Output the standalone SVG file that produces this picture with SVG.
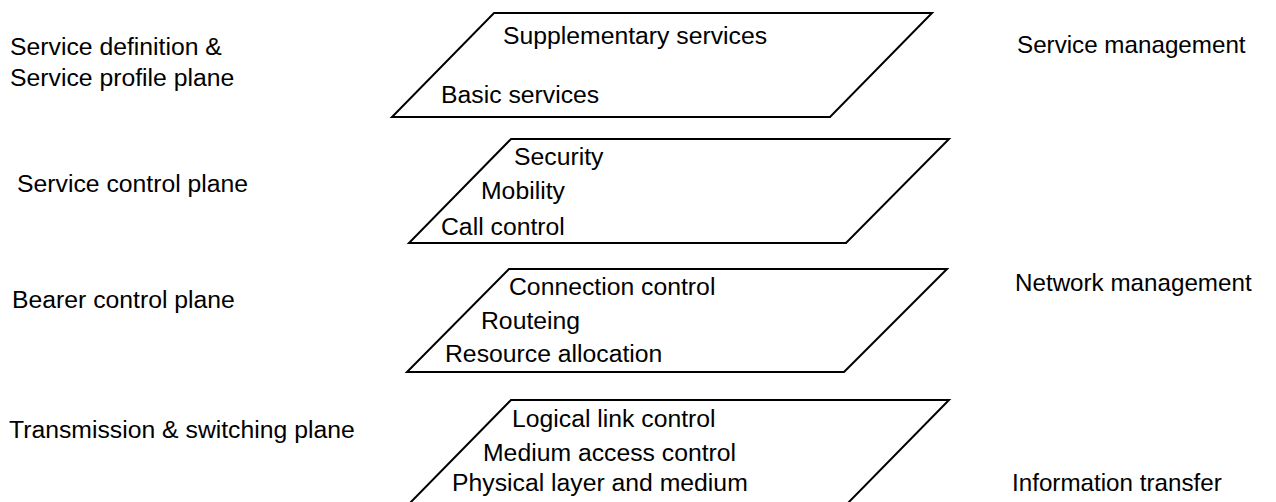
<svg xmlns="http://www.w3.org/2000/svg" width="1276" height="502" viewBox="0 0 1276 502">
  <style>
    .plane { fill: #ffffff; stroke: #000000; stroke-width: 2; stroke-linejoin: miter; }
    text { font-family: "Liberation Sans", Arial, sans-serif; font-size: 24.75px; fill: #000000; }
    .side { font-size: 24.2px; }
  </style>
  <rect x="0" y="0" width="1276" height="502" fill="#ffffff"/>

  <!-- Plane labels, left column -->
  <g id="label-service-definition">
    <text x="10" y="55">Service definition &amp;</text>
    <text x="10" y="86">Service profile plane</text>
  </g>
  <g id="label-service-control"><text x="17" y="192">Service control plane</text></g>
  <g id="label-bearer-control"><text x="12" y="308">Bearer control plane</text></g>
  <g id="label-transmission"><text x="9" y="438">Transmission &amp; switching plane</text></g>

  <!-- Management labels, right column -->
  <g id="label-service-management"><text class="side" x="1017" y="53">Service management</text></g>
  <g id="label-network-management"><text class="side" x="1015" y="291">Network management</text></g>
  <g id="label-information-transfer"><text class="side" x="1012" y="491">Information transfer</text></g>

  <!-- Stacked planes -->
  <g id="plane-service-definition">
    <polygon class="plane" points="494,13 932,13 830,117 392,117"/>
    <text x="503" y="44">Supplementary services</text>
    <text x="441" y="103">Basic services</text>
  </g>
  <g id="plane-service-control">
    <polygon class="plane" points="511,139 949,139 846,243 409,243"/>
    <text x="514" y="165">Security</text>
    <text x="481" y="199">Mobility</text>
    <text x="441" y="235">Call control</text>
  </g>
  <g id="plane-bearer-control">
    <polygon class="plane" points="509,269 947,269 844,372 407,372"/>
    <text x="509" y="295">Connection control</text>
    <text x="481" y="329">Routeing</text>
    <text x="445" y="362">Resource allocation</text>
  </g>
  <g id="plane-transmission">
    <polygon class="plane" points="511,400 949,400 846,505 408,505"/>
    <text x="512" y="427">Logical link control</text>
    <text x="483" y="461">Medium access control</text>
    <text x="452" y="491">Physical layer and medium</text>
  </g>

  <g id="connectors"></g>
</svg>
